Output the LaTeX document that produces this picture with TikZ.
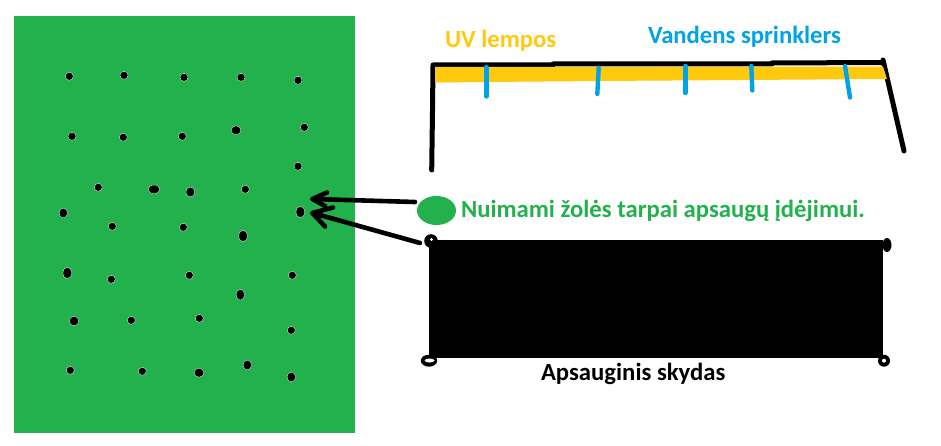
\documentclass[tikz,border=0pt]{standalone}
\usepackage{fontspec}
\usetikzlibrary{shapes.geometric}
\setmainfont{Carlito}
\definecolor{grass}{HTML}{22B14C}
\definecolor{lamp}{HTML}{FFC90E}
\definecolor{water}{HTML}{00A2E8}
\tikzset{
  hole/.style={fill=black,draw=white,line width=0.3pt},
  frameline/.style={line width=5pt},
  pipe/.style={water,line width=4.4pt},
  pointer/.style={line width=4.6pt},
  caption/.style={anchor=base west,inner sep=0pt,outer sep=0pt,font=\fontsize{24.7}{28}\bfseries\selectfont},
}

\begin{document}
\begin{tikzpicture}[line cap=round,line join=round,x=1pt,y=-1pt]
      \useasboundingbox (0,0) rectangle (941,446);
      \fill[white] (0,0) rectangle (941,446);

      % lawn
      \fill[grass] (14,16) rectangle (355,433);
      \foreach \x/\y/\a/\b in {69.3/76.3/4/4, 124/75.3/4/4, 184/77.3/4/4, 241/77.3/4/4, 298/80.3/4/4,
        72/136.3/4/4, 123.3/137.3/4/4, 182.3/136.3/4/4, 236/130.3/4.9/4.5, 304.3/127.3/4/4,
        298/166.3/4/4, 98.3/187.3/4/4, 154/189.3/5.8/4.3, 190.3/192/4.5/4.9, 245.3/189.3/4/4,
        63.3/213/4.3/4.9, 300.3/212/4.3/5.8, 112.3/226.3/4/4, 183.3/227.3/4/4, 243/236/4.3/5.8,
        67.3/273/4.3/5.8, 111.3/279.3/4/4, 189.3/275.3/4/4, 292.3/275.3/4/4, 240.3/294.7/4.3/5.4,
        74/321/4.8/4.8, 131.3/320.3/4/4, 199.3/318.3/4/4, 291.3/330.3/4/4,
        70.3/370.3/4/4, 142.3/371.3/4/4, 199/372.7/4.9/4.5, 247.3/365/4.3/4.9, 291.3/377/4.3/4.9}{
        \draw[hole] (\x,\y) ellipse (\a pt and \b pt);
      }

      % frame, lamp strip and sprinklers
      \draw[frameline] (431.7,170) -- (432.5,110) -- (433,65) -- (445,65) -- (553,65) -- (553,64) -- (772,64) -- (772,63) -- (883,62.5);
      \draw[frameline] (883,60) -- (904,151);
      \fill[lamp] (435,67) -- (883,66.5) -- (887,79) -- (600,81) -- (435,82.5) -- cycle;
      \foreach \xa/\ya/\xb/\yb in {486.3/67/486.3/96.5, 598.7/68/597.3/94, 685.3/66/685.3/93, 751.3/66/752.3/90.5, 845/66/850/97.5}{
        \draw[pipe] (\xa,\ya) -- (\xb,\yb);
      }

      \node[caption,text=lamp] (lamps) at (445,48) {UV lempos};
      \node[caption,text=water] (sprinklers) at (648,44) {Vandens sprinklers};

      % removable patch
      \node[ellipse,fill=grass,minimum width=39pt,minimum height=29pt,inner sep=0pt,outer sep=0pt] (patch) at (436.5,210.5) {};
      \node[caption,text=grass] (patchtext) at (461,218) {Nuimami žolės tarpai apsaugų įdėjimui.};

      % shield with its corner rings
      \node[fill=black,minimum width=454pt,minimum height=118.3pt,inner sep=0pt,outer sep=0pt] (shield) at (656,299.2) {};
      \fill[black] (431,241) circle (6.8pt);
      \fill[white] (431.5,239.5) circle (1.6pt);
      \fill[black] (887,245) ellipse (4.5pt and 7pt);
      \fill[black] (429,360.7) ellipse (8.2pt and 6pt);
      \fill[white] (429.5,360.5) ellipse (5pt and 2pt);
      \fill[black] (884,360.7) circle (6pt);
      \fill[white] (884,360.7) circle (2pt);
      \node[caption,text=black] (shieldtext) at (541,380) {Apsauginis skydas};

      % pointers towards the lawn
      \coordinate (tipa) at (312.5,199);
      \coordinate (tipb) at (312.5,213);
      \coordinate (patchend) at (415,202);
      \coordinate (shieldend) at (420,243);
      \draw[pointer] (patchend) -- (tipa);
      \draw[pointer] (327,192.5) -- (tipa) -- (325,206);
      \draw[pointer] (shieldend) -- (tipb);
      \draw[pointer] (333,207.5) -- (tipb) -- (325,226.5);
\end{tikzpicture}
\end{document}
